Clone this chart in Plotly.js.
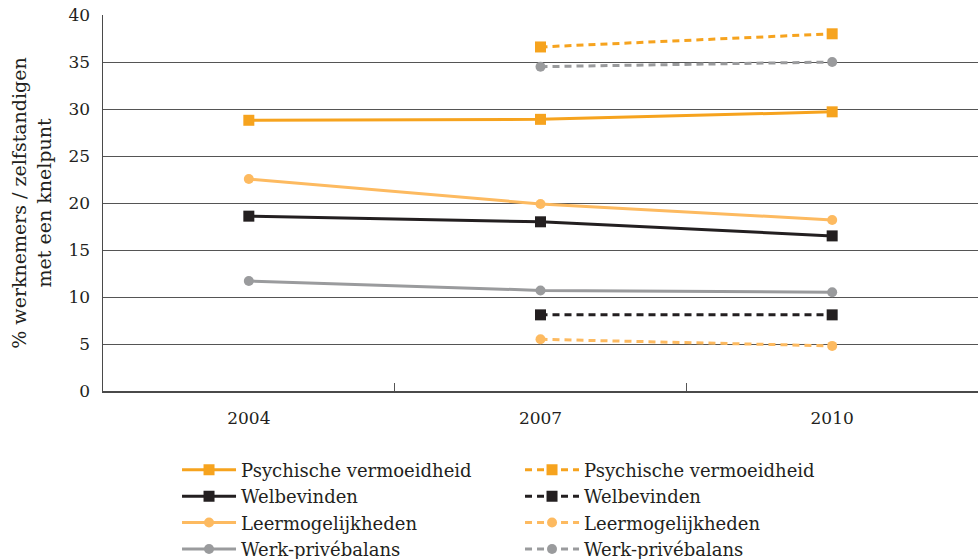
<!DOCTYPE html>
<html>
<head>
<meta charset="utf-8">
<script src="https://cdn.plot.ly/plotly-3.0.1.min.js"></script>
<style>html,body{margin:0;padding:0;background:#fff;}#chart{width:978px;height:559px;}</style>
</head>
<body>
<div id="chart"></div>
<script>
const years = ['2004', '2007', '2010'];

const psychSolid = [28.8, 28.9, 29.7];
const psychDashed = [null, 36.6, 38.0];
const welbSolid = [18.6, 18.0, 16.5];
const welbDashed = [null, 8.1, 8.1];
const leerSolid = [22.55, 19.9, 18.2];
const leerDashed = [null, 5.5, 4.8];
const werkSolid = [11.7, 10.7, 10.5];
const werkDashed = [null, 34.5, 35.0];

const names = ['Psychische vermoeidheid', 'Welbevinden', 'Leermogelijkheden', 'Werk-privébalans'];
const yTitle = '% werknemers / zelfstandigen<br>met een knelpunt';

const cPsych = '#F6A31E';
const cWelb = '#231F20';
const cLeer = '#FDBA60';
const cWerk = '#9A9B9D';

function tr(y, name, color, symbol, msize, dashed) {
  return {
    x: years, y: y, name: name, type: 'scatter', mode: 'lines+markers',
    line: {color: color, width: 3, dash: dashed ? '7px,5px' : 'solid'},
    marker: {color: color, symbol: symbol, size: msize},
    connectgaps: false, cliponaxis: false
  };
}

const data = [
  tr(psychSolid, names[0], cPsych, 'square', 11, false),
  tr(psychDashed, names[0], cPsych, 'square', 11, true),
  tr(welbSolid, names[1], cWelb, 'square', 11, false),
  tr(welbDashed, names[1], cWelb, 'square', 11, true),
  tr(leerSolid, names[2], cLeer, 'circle', 10, false),
  tr(leerDashed, names[2], cLeer, 'circle', 10, true),
  tr(werkSolid, names[3], cWerk, 'circle', 10, false),
  tr(werkDashed, names[3], cWerk, 'circle', 10, true)
];

const FAM = 'DejaVu Serif, serif';

const layout = {
  width: 978, height: 559,
  margin: {l: 103, r: 0, t: 15, b: 168, autoexpand: false},
  paper_bgcolor: '#fff', plot_bgcolor: '#fff',
  font: {family: FAM, size: 17, color: '#231F20'},
  showlegend: true,
  xaxis: {
    type: 'category', range: [-0.5, 2.5],
    tickson: 'boundaries', ticks: 'inside', ticklen: 8, tickcolor: '#555', tickwidth: 1,
    showline: true, linecolor: '#4a4a4a', linewidth: 2,
    showgrid: false, zeroline: false,
    tickfont: {family: FAM, size: 17, color: '#231F20'},
    ticklabelstandoff: 11
  },
  yaxis: {
    range: [0, 40], dtick: 5, tick0: 0,
    showgrid: true, gridcolor: '#555', gridwidth: 1,
    showline: true, linecolor: '#4a4a4a', linewidth: 1.5,
    zeroline: false, ticks: '',
    ticklabelstandoff: 8,
    tickfont: {family: FAM, size: 17, color: '#231F20'},
    title: {text: yTitle, standoff: 12, font: {family: FAM, size: 19, color: '#231F20'}}
  },
  legend: {
    orientation: 'h', x: 0.0846, xanchor: 'left', y: -0.161, yanchor: 'top',
    entrywidth: 274, entrywidthmode: 'pixels', itemwidth: 54,
    traceorder: 'normal',
    font: {family: FAM, size: 18, color: '#231F20'},
    bgcolor: 'rgba(0,0,0,0)'
  }
};

Plotly.newPlot('chart', data, layout, {displayModeBar: false, staticPlot: true});
</script>
</body>
</html>
